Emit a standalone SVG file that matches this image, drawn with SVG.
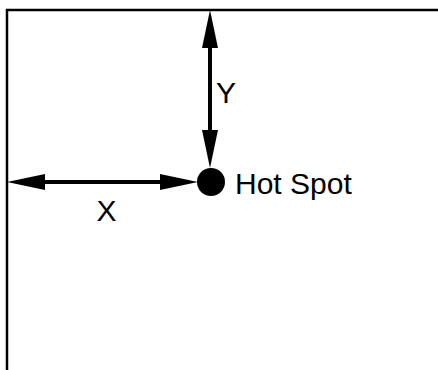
<svg xmlns="http://www.w3.org/2000/svg" width="438" height="370" viewBox="0 0 438 370">
<style>
.frame{fill:none;stroke:#000;stroke-width:2.5}
.dim{stroke:#000;stroke-width:4;fill:none}
.head{fill:#000}
text{font-family:"Liberation Sans",Arial,sans-serif;font-size:30px;fill:#000}
</style>
<rect width="438" height="370" fill="#fff"/>
<g id="frame">
<path class="frame" d="M7,370 V10 H438"/>
</g>
<g id="connectors">
<line class="dim" x1="210" y1="46" x2="210" y2="132"/>
<polygon class="head" points="210,10 202,48 218,48"/>
<polygon class="head" points="210,168 202,130 218,130"/>
<line class="dim" x1="43" y1="182" x2="162" y2="182"/>
<polygon class="head" points="7,182 45,174 45,190"/>
<polygon class="head" points="198,182 160,174 160,190"/>
</g>
<g id="hotspot">
<circle cx="211" cy="182" r="14" fill="#000"/>
<text x="235" y="194">Hot Spot</text>
</g>
<g id="labels">
<text x="106.5" y="221" text-anchor="middle">X</text>
<text x="216" y="103">Y</text>
</g>
</svg>
